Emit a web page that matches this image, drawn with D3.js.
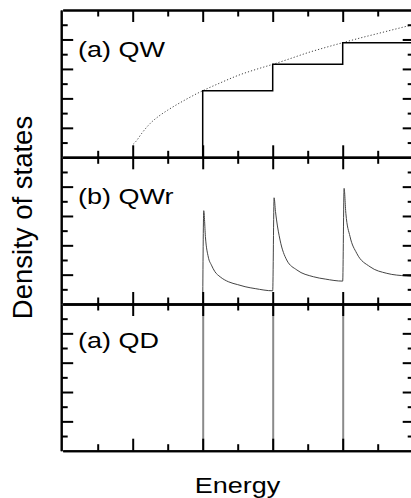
<!DOCTYPE html>
<html>
<head>
<meta charset="utf-8">
<script src="https://cdn.jsdelivr.net/npm/d3@7"></script>
<style>
  body { margin: 0; background: #fff; }
  svg { display: block; }
  text { font-family: "Liberation Sans", Arial, sans-serif; fill: #000; }
</style>
</head>
<body>
<svg id="chart" width="411" height="498"></svg>
<script>
// (a) QW: bulk sqrt curve (dotted) and step DOS
var qwCurveE = [2.02, 2.1, 2.25, 2.5, 2.75, 3.0, 3.5, 4.0, 4.5, 5.0, 5.5, 6.0, 6.5, 7.0, 7.5, 8.0, 8.5, 9.0, 9.5, 10.0];
var qwCurveD = [0.9, 1.1, 1.6, 2.3, 2.8, 3.2, 3.9, 4.52, 5.05, 5.55, 5.95, 6.31, 6.7, 7.1, 7.45, 7.78, 8.1, 8.4, 8.7, 9.0];
var qwStepE = [4, 4, 6, 8, 10];
var qwStepD = [0, 4.52, 6.31, 7.78, 7.78];

// (b) QWr: sawtooth-like 1/sqrt peaks
var qwrE = [4.0, 4.03, 4.08, 4.16, 4.25, 4.35, 4.5, 4.73, 5.0, 5.21, 5.5, 6.0,
            6.04, 6.08, 6.11, 6.21, 6.4, 6.69, 7.16, 7.5, 8.0,
            8.04, 8.09, 8.21, 8.4, 8.78, 9.26, 9.83, 10.0];
var qwrD = [0, 6.36, 4.5, 3.2, 2.65, 2.2, 1.85, 1.52, 1.32, 1.18, 1.05, 0.9,
            7.24, 6.3, 5.73, 4.36, 3.0, 2.32, 1.86, 1.7, 1.56,
            7.88, 6.18, 4.59, 3.46, 2.54, 2.09, 1.91, 1.88];

// (a) QD: delta peaks
var qdE = [4, 6, 8];
var qdD = [12, 12, 12];

var xMajor = [2, 4, 6, 8, 10];
var xMinor = [1, 3, 5, 7, 9];
var yMajor = [2, 4, 6, 8];
var yMinor = [1, 3, 5, 7, 9];

var panelLabels = ["(a) QW", "(b) QWr", "(a) QD"];

var svg = d3.select("#chart");

var left = 61.2, right = 412.7;
var panelTops = [10, 157.3, 304];
var panelBottoms = [157.3, 304, 450.7];
var labelBase = [57, 204, 348];

var x = d3.scaleLinear().domain([0, 10]).range([62.7, 412.7]);

var panels = panelTops.map(function(top, i) {
    var y = d3.scaleLinear().domain([0, 10]).range([panelBottoms[i], top]);
    var g = svg.append("g");

    g.append("clipPath").attr("id", "clip" + i)
        .append("rect")
        .attr("x", left).attr("y", top)
        .attr("width", right - left).attr("height", panelBottoms[i] - top);

    var plot = g.append("g").attr("clip-path", "url(#clip" + i + ")");

    drawAxes(g, y, top, panelBottoms[i]);

    g.append("text")
        .attr("transform", "translate(78," + labelBase[i] + ") scale(1,0.8)")
        .attr("font-size", 27)
        .text(panelLabels[i]);

    return { y: y, plot: plot };
});

function drawAxes(g, y, top, bottom) {
    function add(axis, tx, ty, size) {
        var a = g.append("g")
            .attr("transform", "translate(" + tx + "," + ty + ")")
            .call(axis.tickSize(size).tickSizeOuter(0).tickFormat(""));
        a.select(".domain").attr("stroke", "#000").attr("stroke-width", 2);
        a.selectAll(".tick line").attr("stroke", "#000").attr("stroke-width", 2);
    }
    add(d3.axisBottom(x).tickValues(xMajor), 0, bottom, -12);
    add(d3.axisBottom(x).tickValues(xMinor), 0, bottom, -6.5);
    add(d3.axisTop(x).tickValues(xMajor), 0, top, -12);
    add(d3.axisTop(x).tickValues(xMinor), 0, top, -6.5);
    add(d3.axisLeft(y).tickValues(yMajor), left, 0, -12);
    add(d3.axisLeft(y).tickValues(yMinor), left, 0, -6.5);
    add(d3.axisRight(y).tickValues(yMajor), right, 0, -10);
    add(d3.axisRight(y).tickValues(yMinor), right, 0, -5);
}

// panel 1
var p1 = panels[0];
var line1 = d3.line()
    .x(function(d) { return x(d[0]); })
    .y(function(d) { return p1.y(d[1]); });

p1.plot.append("path")
    .datum(d3.zip(qwCurveE, qwCurveD))
    .attr("d", line1.curve(d3.curveMonotoneX))
    .attr("fill", "none")
    .attr("stroke", "#444")
    .attr("stroke-width", 1)
    .attr("stroke-dasharray", "1.2,2");

p1.plot.append("path")
    .datum(d3.zip(qwStepE, qwStepD))
    .attr("d", line1.curve(d3.curveStepAfter))
    .attr("fill", "none")
    .attr("stroke", "#000")
    .attr("stroke-width", 1.5);

// panel 2
var p2 = panels[1];
var line2 = d3.line()
    .x(function(d) { return x(d[0]); })
    .y(function(d) { return p2.y(d[1]); })
    .curve(d3.curveMonotoneX);

p2.plot.append("path")
    .datum(d3.zip(qwrE, qwrD))
    .attr("d", line2)
    .attr("fill", "none")
    .attr("stroke", "#444")
    .attr("stroke-width", 1);

// panel 3
var p3 = panels[2];
p3.plot.selectAll("line.peak")
    .data(d3.zip(qdE, qdD))
    .enter().append("line")
    .attr("class", "peak")
    .attr("x1", function(d) { return x(d[0]) + 0.5; })
    .attr("x2", function(d) { return x(d[0]) + 0.5; })
    .attr("y1", p3.y(0))
    .attr("y2", function(d) { return p3.y(d[1]); })
    .attr("stroke", "#8a8a8a")
    .attr("stroke-width", 2);

// axis titles
svg.append("text")
    .attr("transform", "translate(237.5,493) scale(1,0.8)")
    .attr("text-anchor", "middle")
    .attr("font-size", 27)
    .text("Energy");

svg.append("text")
    .attr("transform", "translate(32,217.5) rotate(-90)")
    .attr("text-anchor", "middle")
    .attr("font-size", 27.5)
    .text("Density of states");
</script>
</body>
</html>
